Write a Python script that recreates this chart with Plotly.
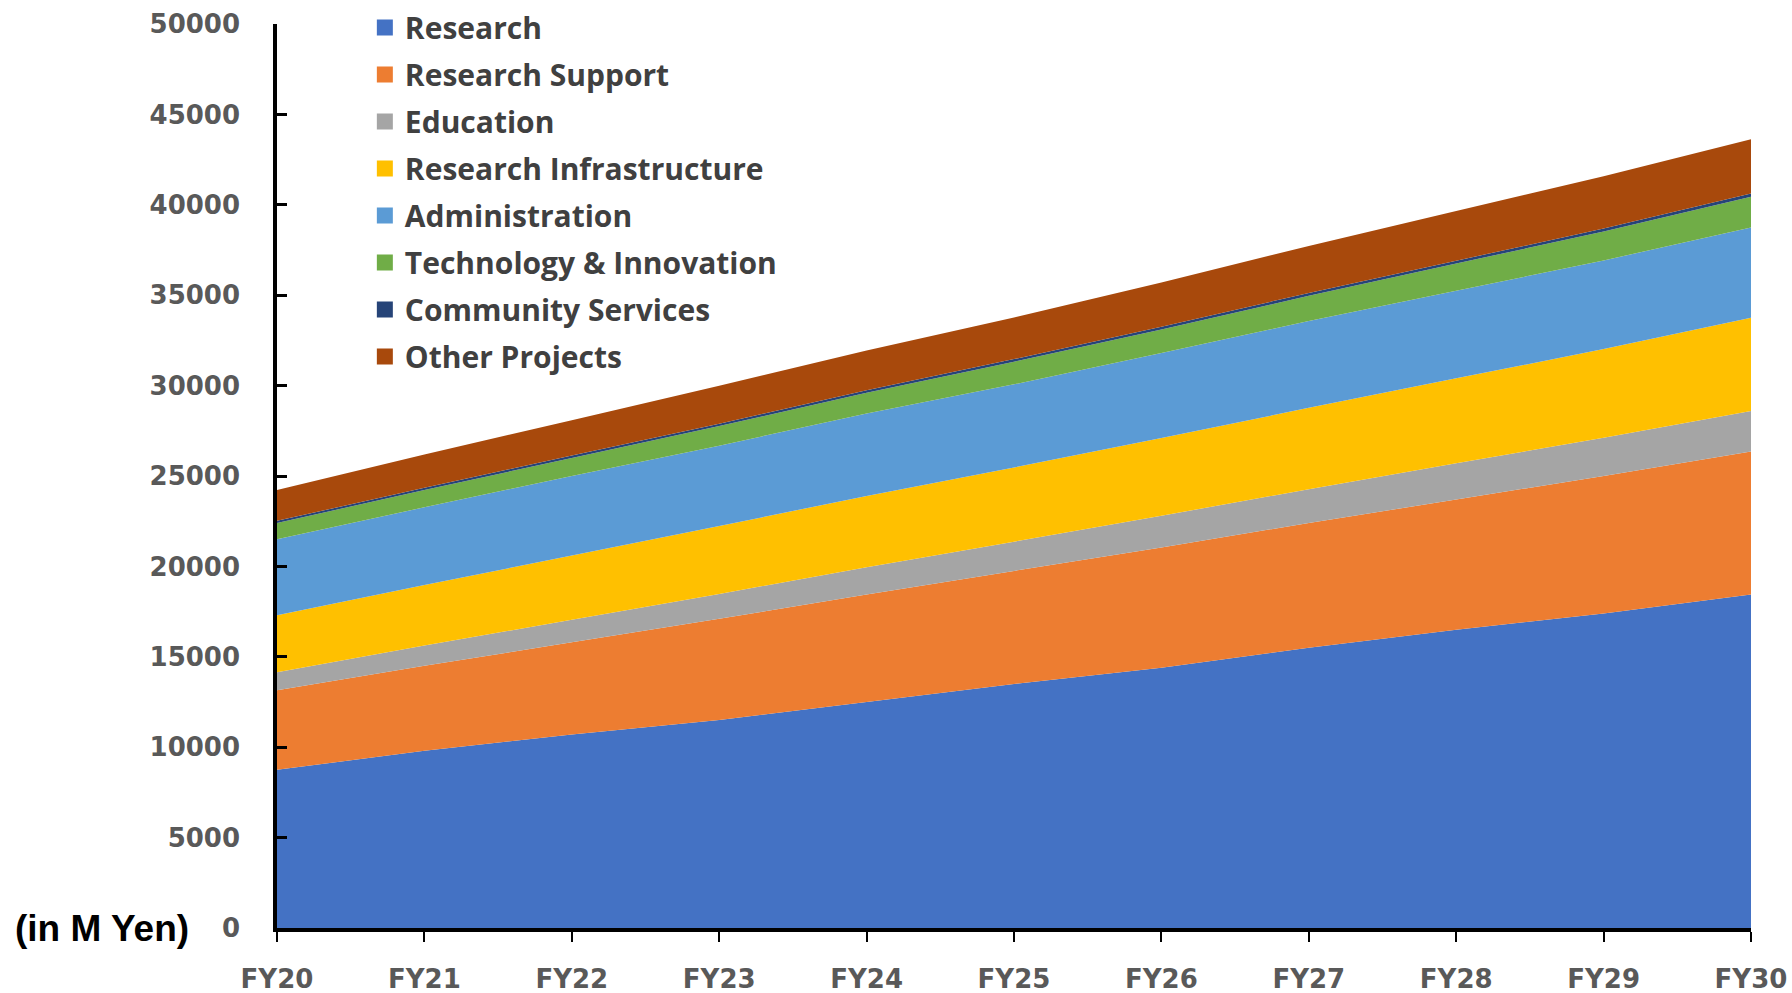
import plotly.graph_objects as go

years = ["FY20", "FY21", "FY22", "FY23", "FY24", "FY25", "FY26", "FY27", "FY28", "FY29", "FY30"]

research = [8750, 9800, 10700, 11500, 12500, 13500, 14400, 15500, 16500, 17400, 18450]
research_support = [4400, 4700, 5100, 5600, 5950, 6250, 6650, 6900, 7200, 7600, 7900]
education = [1000, 1120, 1250, 1380, 1500, 1620, 1750, 1870, 2000, 2120, 2250]
research_infrastructure = [3150, 3350, 3550, 3750, 3950, 4100, 4300, 4500, 4700, 4900, 5150]
administration = [4200, 4300, 4400, 4450, 4550, 4600, 4700, 4800, 4850, 4900, 5000]
technology_innovation = [900, 950, 1000, 1080, 1150, 1250, 1300, 1400, 1500, 1600, 1700]
community_services = [120, 125, 130, 135, 140, 145, 150, 155, 160, 165, 170]
other_projects = [1700, 1850, 1950, 2100, 2200, 2300, 2450, 2600, 2750, 2900, 3000]

y_ticks = [0, 5000, 10000, 15000, 20000, 25000, 30000, 35000, 40000, 45000, 50000]

series = [
    ("Research", research, "#4472C4"),
    ("Research Support", research_support, "#ED7D31"),
    ("Education", education, "#A5A5A5"),
    ("Research Infrastructure", research_infrastructure, "#FFC000"),
    ("Administration", administration, "#5B9BD5"),
    ("Technology & Innovation", technology_innovation, "#70AD47"),
    ("Community Services", community_services, "#264478"),
    ("Other Projects", other_projects, "#A8490C"),
]

fig = go.Figure()
for i, (name, vals, color) in enumerate(series):
    fig.add_trace(go.Scatter(
        x=years, y=vals, name=name, stackgroup="one", mode="none",
        fillcolor=color, showlegend=False, hoverinfo="x+y+name",
    ))
# legend entries with square markers
for i, (name, vals, color) in enumerate(series):
    fig.add_trace(go.Scatter(
        x=[None], y=[None], name=name, mode="markers",
        marker=dict(symbol="square", size=17, color=color),
        legendgroup="g%d" % i, showlegend=True,
    ))

fig.update_layout(
    width=1792, height=993,
    margin=dict(l=277, r=41, t=24, b=65, autoexpand=False),
    paper_bgcolor="white", plot_bgcolor="white",
    showlegend=True,
    legend=dict(
        x=0.0596, y=1.0248, xref="paper", yref="paper",
        xanchor="left", yanchor="top",
        font=dict(family="Open Sans", size=30, color="#404040", weight="bold"),
        tracegroupgap=5, bgcolor="rgba(0,0,0,0)",
        itemwidth=30,
    ),
    annotations=[dict(
        text="(in M Yen)", xref="paper", yref="y", x=-0.1187, y=0,
        xanchor="center", yanchor="middle", showarrow=False,
        font=dict(family="Liberation Sans, Arial", size=37, color="black", weight="bold"),
    )],
)

fig.update_xaxes(
    type="category", range=[0, 10], showgrid=False, zeroline=False, automargin=False,
    showline=True, linecolor="black", linewidth=3.5,
    ticks="outside", ticklen=10, tickwidth=2, tickcolor="black",
    tickfont=dict(family="DejaVu Sans", size=26, color="#595959", weight="bold"),
    ticklabelstandoff=15,
)
fig.update_yaxes(
    range=[0, 50000], showgrid=False, zeroline=False, automargin=False,
    tickmode="array", tickvals=y_ticks, ticktext=[str(v) for v in y_ticks],
    showline=True, linecolor="black", linewidth=3.5,
    ticks="inside", ticklen=10, tickwidth=3, tickcolor="black",
    tickfont=dict(family="DejaVu Sans", size=26, color="#595959", weight="bold"),
    ticklabelstandoff=28,
)

fig.write_html(
    "out.html",
    config={"displayModeBar": False},
    post_script="document.body.style.margin='0px';",
)
